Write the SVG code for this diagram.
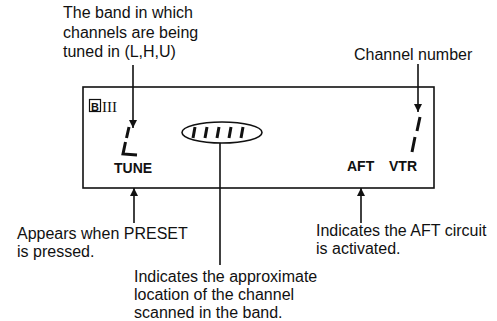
<svg xmlns="http://www.w3.org/2000/svg" width="497" height="321" viewBox="0 0 497 321">
<defs>
<style>
.lbl{font-family:"Liberation Sans",Arial,sans-serif;font-size:16px;fill:#111}
.ind{font-family:"Liberation Sans",Arial,sans-serif;font-size:14px;font-weight:bold;fill:#111}
.ln{stroke:#111;stroke-width:1.6;fill:none}
.seg{stroke:#111;stroke-width:3;stroke-linecap:butt;fill:none}
</style>
<marker id="ah" viewBox="0 0 10 10" refX="10" refY="5" markerWidth="8" markerHeight="12" markerUnits="userSpaceOnUse" orient="auto">
<path d="M0,0 L10,5 L0,10 z" fill="#111"/>
</marker>
</defs>
<rect width="497" height="321" fill="#fff"/>
<g id="display">
<rect x="83" y="87" width="351" height="101" class="ln"/>
<rect x="89.5" y="99.5" width="11" height="12" fill="none" stroke="#111" stroke-width="1.2"/>
<text x="95" y="110.5" text-anchor="middle" style="font-family:'Liberation Sans',Arial,sans-serif;font-size:11px;font-weight:bold" fill="#111">B</text>
<text x="102" y="112" style="font-family:'Liberation Serif','Times New Roman',serif;font-size:15px" fill="#111">III</text>
<path class="seg" d="M129,127 L126.5,138 M125.5,142 L123,154 L137,155"/>
<text x="114" y="173" class="ind">TUNE</text>
<text x="347" y="171" class="ind">AFT</text>
<text x="389" y="171" class="ind">VTR</text>
<path class="seg" d="M420,117 L417,131 M415,137 L412,152"/>
</g>
<g id="band-scan">
<ellipse cx="222" cy="132.5" rx="40" ry="10.5" class="ln"/>
<path class="seg" stroke-width="3" d="M195,127 L193,138 M207,127 L205,138 M219,127 L217,138 M231,127 L229,138 M243,127 L241,138"/>
</g>
<g id="label-band">
<text class="lbl"><tspan x="63" y="18">The band in which</tspan><tspan x="63" y="37.5">channels are being</tspan><tspan x="63" y="57">tuned in (L,H,U)</tspan></text>
</g>
<g id="label-channel">
<text x="354" y="60" class="lbl">Channel number</text>
</g>
<g id="label-tune">
<text class="lbl"><tspan x="17" y="239">Appears when PRESET</tspan><tspan x="17" y="257">is pressed.</tspan></text>
</g>
<g id="label-aft">
<text class="lbl"><tspan x="316" y="236">Indicates the AFT circuit</tspan><tspan x="316" y="254">is activated.</tspan></text>
</g>
<g id="label-scan">
<text class="lbl"><tspan x="134" y="282">Indicates the approximate</tspan><tspan x="134" y="300">location of the channel</tspan><tspan x="134" y="318">scanned in the band.</tspan></text>
</g>
<g id="connectors">
<line x1="133" y1="65" x2="133" y2="128" class="ln" marker-end="url(#ah)"/>
<line x1="418" y1="64" x2="418" y2="112" class="ln" marker-end="url(#ah)"/>
<line x1="134" y1="223" x2="134" y2="188" class="ln" marker-end="url(#ah)"/>
<line x1="361" y1="223" x2="361" y2="188" class="ln" marker-end="url(#ah)"/>
<line x1="220" y1="143" x2="220" y2="265" class="ln"/>
</g>
</svg>
